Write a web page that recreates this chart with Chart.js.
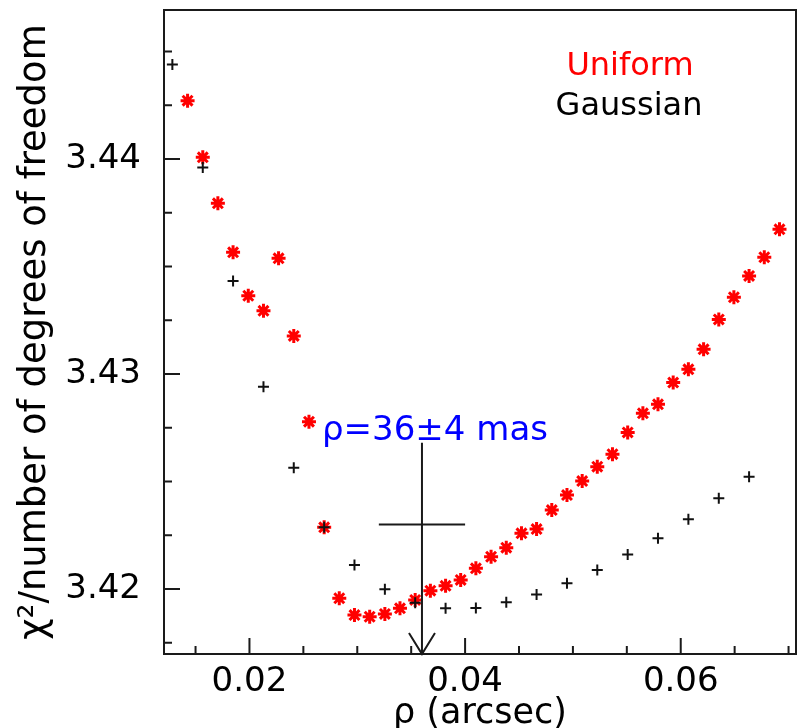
<!DOCTYPE html>
<html>
<head>
<meta charset="utf-8">
<script src="https://cdn.jsdelivr.net/npm/chart.js@4.4.1/dist/chart.umd.min.js"></script>
<style>
  html, body { margin: 0; padding: 0; background: #fff; }
  #wrap { width: 806px; height: 728px; }
</style>
</head>
<body>
<div id="wrap"><canvas id="chi2Chart" width="806" height="728"></canvas></div>
<script>
// rho grid (arcsec) and reduced chi2 for the uniform disk fits
const rhoUniform = [
  0.01426, 0.01567, 0.01707, 0.01848, 0.01989, 0.02130, 0.02270, 0.02411, 0.02552, 0.02693,
  0.02833, 0.02974, 0.03115, 0.03256, 0.03396, 0.03537, 0.03678, 0.03819, 0.03959, 0.04100,
  0.04241, 0.04382, 0.04523, 0.04663, 0.04804, 0.04945, 0.05086, 0.05226, 0.05367, 0.05508,
  0.05649, 0.05789, 0.05930, 0.06071, 0.06212, 0.06353, 0.06493, 0.06634, 0.06775, 0.06916
];
const chi2Uniform = [
  3.44271, 3.44008, 3.43794, 3.43566, 3.43364, 3.43294, 3.43538, 3.43177, 3.42778, 3.42287,
  3.41957, 3.41879, 3.41871, 3.41884, 3.41910, 3.41949, 3.41992, 3.42015, 3.42042, 3.42096,
  3.42150, 3.42192, 3.42259, 3.42279, 3.42367, 3.42437, 3.42502, 3.42569, 3.42627, 3.42728,
  3.42817, 3.42859, 3.42960, 3.43022, 3.43115, 3.43254, 3.43357, 3.43456, 3.43543, 3.43673
];

// gaussian fits (every other grid step)
const rhoGaussian = [
  0.01285, 0.01567, 0.01848, 0.02130, 0.02411, 0.02693, 0.02974, 0.03256, 0.03537, 0.03819,
  0.04100, 0.04382, 0.04663, 0.04945, 0.05226, 0.05508, 0.05789, 0.06071, 0.06353, 0.06634
];
const chi2Gaussian = [
  3.44440, 3.43961, 3.43433, 3.42941, 3.42564, 3.42287, 3.42112, 3.41999, 3.41936, 3.41910,
  3.41912, 3.41938, 3.41975, 3.42027, 3.42088, 3.42160, 3.42236, 3.42324, 3.42422, 3.42522
];

const xTickLabels = [0.02, 0.04, 0.06];
const xMinorTicks = [0.015, 0.025, 0.03, 0.035, 0.045, 0.05, 0.055, 0.065, 0.07];
const yTickLabels = [3.42, 3.43, 3.44];
const yMinorTicks = [3.4175, 3.4225, 3.425, 3.4275, 3.4325, 3.435, 3.4375, 3.4425, 3.445];

// best fit marker: rho = 36 +- 4 mas
const bestRho = 0.036;
const rhoErr = 0.004;
const crossChi2 = 3.423;
const arrowTopChi2 = 3.4268;

const FONT = '"DejaVu Sans", sans-serif';

const frameAndTicks = {
  id: 'frameAndTicks',
  afterDatasetsDraw(chart) {
    const { ctx, chartArea: a, scales: { x, y } } = chart;
    ctx.save();
    ctx.strokeStyle = '#1a1a1a';
    ctx.lineWidth = 2;

    // tick marks, inside the frame, bottom and left only
    ctx.beginPath();
    xTickLabels.forEach(v => {
      const px = x.getPixelForValue(v);
      ctx.moveTo(px, a.bottom); ctx.lineTo(px, a.bottom - 16);
    });
    xMinorTicks.forEach(v => {
      const px = x.getPixelForValue(v);
      ctx.moveTo(px, a.bottom); ctx.lineTo(px, a.bottom - 8);
    });
    yTickLabels.forEach(v => {
      const py = y.getPixelForValue(v);
      ctx.moveTo(a.left, py); ctx.lineTo(a.left + 16, py);
    });
    yMinorTicks.forEach(v => {
      const py = y.getPixelForValue(v);
      ctx.moveTo(a.left, py); ctx.lineTo(a.left + 8, py);
    });
    ctx.stroke();

    ctx.strokeRect(a.left, a.top, a.right - a.left, a.bottom - a.top);

    // error cross with arrow down to the axis
    const cx = x.getPixelForValue(bestRho);
    const cy = y.getPixelForValue(crossChi2);
    const top = y.getPixelForValue(arrowTopChi2);
    ctx.beginPath();
    ctx.moveTo(x.getPixelForValue(bestRho - rhoErr), cy);
    ctx.lineTo(x.getPixelForValue(bestRho + rhoErr), cy);
    ctx.moveTo(cx, top);
    ctx.lineTo(cx, a.bottom);
    ctx.moveTo(cx - 13, a.bottom - 21);
    ctx.lineTo(cx, a.bottom);
    ctx.lineTo(cx + 13, a.bottom - 21);
    ctx.stroke();

    // labels inside the frame
    ctx.textBaseline = 'alphabetic';
    ctx.textAlign = 'center';
    ctx.font = '32px ' + FONT;
    ctx.fillStyle = '#ff0000';
    ctx.fillText('Uniform', 630, 75);
    ctx.fillStyle = '#000000';
    ctx.fillText('Gaussian', 629, 115);

    ctx.textAlign = 'left';
    ctx.font = '34px ' + FONT;
    ctx.fillStyle = '#0000ff';
    ctx.fillText('\u03c1=36\u00b14 mas', 322, 440);
    ctx.restore();
  }
};

new Chart(document.getElementById('chi2Chart'), {
  type: 'scatter',
  data: {
    datasets: [
      {
        label: 'Gaussian',
        data: rhoGaussian.map((v, i) => ({ x: v, y: chi2Gaussian[i] })),
        pointStyle: 'cross',
        pointRadius: 5.5,
        pointBorderWidth: 2,
        borderColor: '#111111',
        backgroundColor: '#111111',
        order: 0
      },
      {
        label: 'Uniform',
        data: rhoUniform.map((v, i) => ({ x: v, y: chi2Uniform[i] })),
        pointStyle: 'star',
        pointRadius: 7,
        pointBorderWidth: 3,
        borderColor: '#ff0000',
        backgroundColor: '#ff0000',
        order: 1
      }
    ]
  },
  options: {
    responsive: false,
    animation: false,
    events: [],
    layout: { padding: { top: 10, right: 6, left: 0, bottom: 0 } },
    plugins: { legend: { display: false }, tooltip: { enabled: false } },
    scales: {
      x: {
        type: 'linear',
        min: 0.012074,
        max: 0.070691,
        grid: { display: false },
        border: { display: false },
        afterBuildTicks: s => { s.ticks = xTickLabels.map(v => ({ value: v })); },
        afterFit: s => {
          s.height = 74;
          s.paddingLeft = 0;
          s.paddingRight = 0;
        },
        ticks: {
          padding: 3,
          color: '#000',
          font: { family: FONT, size: 34, lineHeight: 1 },
          callback: v => v.toFixed(2)
        },
        title: {
          display: true,
          text: '\u03c1 (arcsec)',
          color: '#000',
          font: { family: FONT, size: 35, lineHeight: 1 },
          padding: { top: 0, bottom: -3 }
        }
      },
      y: {
        type: 'linear',
        min: 3.416977,
        max: 3.44693,
        grid: { display: false },
        border: { display: false },
        afterBuildTicks: s => { s.ticks = yTickLabels.map(v => ({ value: v })); },
        afterFit: s => {
          s.width = 164;
          s.paddingTop = 0;
          s.paddingBottom = 0;
        },
        ticks: {
          padding: 15,
          color: '#000',
          font: { family: FONT, size: 34, lineHeight: 1 },
          callback: v => v.toFixed(2)
        },
        title: {
          display: true,
          text: '\u03c7\u00b2/number of degrees of freedom',
          color: '#000',
          font: { family: FONT, size: 37, lineHeight: 1 },
          padding: { top: 17, bottom: 0 }
        }
      }
    }
  },
  plugins: [frameAndTicks]
});
</script>
</body>
</html>
